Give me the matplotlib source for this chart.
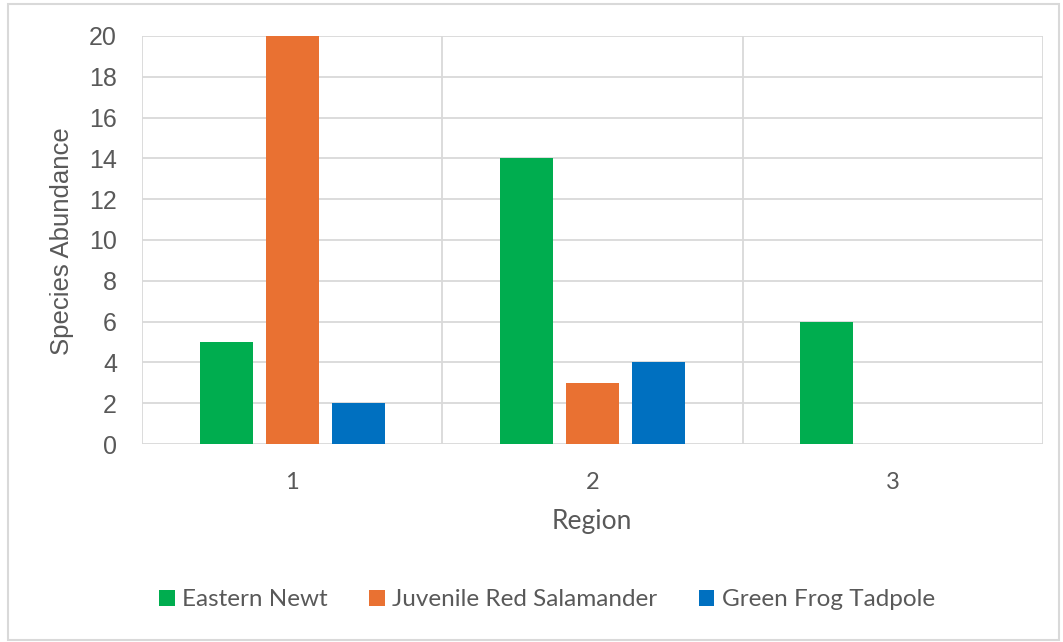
import matplotlib
matplotlib.use("Agg")
import matplotlib.pyplot as plt
from matplotlib.patches import Rectangle
import numpy as np

regions = ["1", "2", "3"]
series = ["Eastern Newt", "Juvenile Red Salamander", "Green Frog Tadpole"]
eastern_newt = [5, 14, 6]
red_salamander = [20, 3, 0]
frog_tadpole = [2, 4, 0]
colors = ["#00ad4f", "#e97132", "#0070c0"]
yticks = list(range(0, 21, 2))

W, H = 1063, 642
fig = plt.figure(figsize=(W / 100, H / 100), dpi=100)
ax = fig.add_axes([142 / W, 1 - 444 / H, (1043 - 142) / W, (444 - 36) / H])

# outer chart frame
fig.patches.append(Rectangle((8 / W, 2 / H), 1 - 12 / W, 1 - 6 / H,
                             transform=fig.transFigure, fill=False,
                             edgecolor="#d9d9d9", linewidth=1.5))

x = np.arange(len(regions))
bw = 53 / 300
step = 66 / 300
for i, (vals, name) in enumerate(zip([eastern_newt, red_salamander, frog_tadpole], series)):
    ax.bar(x + (i - 1) * step, vals, width=bw, color=colors[i], label=name, zorder=3)

ax.set_xlim(-0.5, 2.5)
ax.set_ylim(0, 20)
ax.set_yticks(yticks)
ax.set_xticks(x)
ax.set_xticklabels(regions)

# gridlines: horizontal at each tick, vertical at category boundaries
for yv in yticks:
    ax.axhline(yv, color="#d9d9d9", linewidth=1.3, zorder=1)
for xv in [-0.5, 0.5, 1.5, 2.5]:
    ax.axvline(xv, color="#d9d9d9", linewidth=1.3, zorder=1)
for s in ax.spines.values():
    s.set_visible(False)

txt = "#595959"
ax.tick_params(axis="both", length=0, colors=txt)
for lab in ax.get_yticklabels():
    lab.set_fontfamily("Liberation Sans")
    lab.set_fontsize(18)
for lab in ax.get_xticklabels():
    lab.set_fontfamily("Lato")
    lab.set_fontsize(17)
ax.tick_params(axis="y", pad=18)
ax.tick_params(axis="x", pad=20)

fig.text(62 / W, 1 - 241 / H, "Species Abundance", rotation=90, ha="center", va="center",
         fontsize=18.5, color=txt, family="Liberation Sans")
fig.text(592 / W, 1 - 521 / H, "Region", ha="center", va="center",
         fontsize=19, color=txt, family="Lato")

leg = fig.legend(loc="center", bbox_to_anchor=(547 / W, 1 - 600 / H), ncol=3,
                 frameon=False, prop={"family": "Lato", "size": 17.5},
                 handlelength=0.65, handleheight=0.65, handletextpad=0.3, columnspacing=1.7)
for t in leg.get_texts():
    t.set_color(txt)

fig.savefig("out.png", dpi=100)
